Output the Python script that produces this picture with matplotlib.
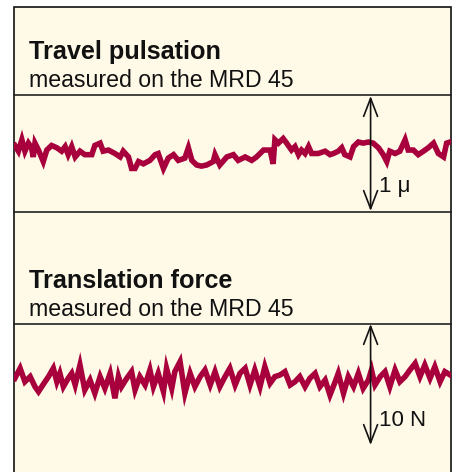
import matplotlib.pyplot as plt
from matplotlib.patches import Rectangle

plt.rcParams['font.family'] = ['Liberation Sans', 'DejaVu Sans']

# Travel pulsation trace (x: 0..100 across panel, value in micron)
travel_x = [0.2, 1.0, 1.8, 2.5, 3.3, 4.0, 4.4, 4.8, 5.6, 6.7,
            7.5, 8.6, 9.8, 10.9, 11.7, 12.4, 13.2, 14.0, 15.1, 16.2,
            17.8, 18.5, 19.7, 20.4, 21.6, 23.1, 24.3, 25.0, 26.2, 26.9,
            27.7, 28.5, 29.6, 31.1, 32.3, 33.0, 34.2, 35.3, 36.5, 37.6,
            39.1, 39.9, 40.7, 41.8, 42.9, 44.1, 45.6, 46.0, 47.1, 48.7,
            50.2, 51.3, 52.9, 54.4, 55.5, 57.1, 58.6, 59.3, 59.7, 60.5,
            61.6, 62.4, 63.5, 64.3, 65.1, 65.8, 66.6, 67.4, 68.1, 69.6,
            71.2, 72.3, 73.1, 74.2, 75.0, 75.7, 76.9, 77.7, 78.8, 79.9,
            81.1, 82.2, 83.4, 84.5, 85.3, 86.0, 87.2, 88.3, 89.5, 90.2,
            91.4, 92.5, 93.7, 94.8, 96.0, 97.1, 98.3, 99.0, 99.8]
travel_v = [0.07, 0.02, 0.12, 0.02, 0.09, 0.05, -0.03, 0.09, 0.03, -0.07,
            0.03, 0.07, 0.05, 0.02, 0.06, -0.01, 0.06, -0.03, 0.02, -0.01,
            -0.01, 0.07, 0.09, 0.02, 0.03, 0.00, -0.03, 0.02, -0.03, -0.13,
            -0.13, -0.07, -0.09, -0.06, -0.01, 0.00, -0.13, -0.04, -0.01, -0.06,
            -0.04, 0.05, -0.06, -0.10, -0.11, -0.10, -0.07, -0.01, -0.10, -0.03,
            -0.01, -0.06, -0.03, -0.06, -0.03, 0.03, 0.03, -0.09, 0.12, 0.09,
            0.13, 0.09, 0.03, 0.06, -0.01, 0.03, 0.00, 0.06, 0.00, 0.00,
            0.02, -0.01, 0.00, 0.02, 0.05, -0.01, -0.03, 0.06, 0.10, 0.09,
            0.10, 0.09, 0.05, -0.01, -0.07, 0.02, 0.00, 0.02, 0.12, 0.03,
            0.03, -0.01, 0.02, 0.05, 0.09, 0.00, -0.03, 0.09, 0.10]

# Translation force trace (value in N)
force_x = [0.2, 1.4, 2.5, 3.7, 4.8, 5.6, 7.1, 7.9, 9.0, 9.8,
           10.5, 11.3, 12.4, 13.2, 14.0, 15.1, 16.2, 17.4, 18.5, 19.7,
           20.8, 22.0, 23.1, 23.9, 24.6, 25.8, 26.9, 27.7, 28.8, 30.0,
           31.1, 31.9, 33.0, 34.2, 34.9, 36.1, 36.8, 38.0, 39.1, 40.3,
           41.4, 42.6, 43.7, 44.9, 46.0, 47.1, 48.3, 49.4, 50.6, 51.7,
           52.9, 54.0, 55.1, 56.3, 57.4, 58.6, 59.7, 60.9, 62.0, 63.2,
           64.3, 65.4, 66.6, 67.7, 68.9, 70.0, 71.2, 72.3, 73.5, 74.2,
           75.4, 76.5, 77.7, 78.8, 79.9, 81.1, 81.8, 82.6, 83.8, 84.9,
           86.0, 87.2, 88.3, 89.5, 90.6, 91.8, 92.9, 94.0, 95.2, 96.3,
           97.5, 98.6, 99.8]
force_v = [0.51, 1.34, 0.23, 0.65, -0.18, -0.59, 0.23, 0.65, 1.34, 0.23,
           0.92, -0.18, 0.51, 0.92, -0.04, 1.61, -0.45, 0.37, -0.73, 0.65,
           -0.32, 0.92, -1.14, 0.65, -0.18, 0.51, 1.06, -0.45, 0.65, -0.04,
           1.20, -0.18, 0.92, -0.59, 1.34, -0.32, 1.06, 1.89, -0.73, 0.92,
           -0.18, 0.65, 1.20, -0.04, 1.06, -0.18, 0.65, 1.34, -0.04, 0.92,
           1.34, -0.04, 1.20, -0.18, 1.47, 0.10, 0.65, 0.79, 1.06, -0.04,
           0.23, 0.65, -0.18, 0.51, 0.92, -0.18, 0.37, -0.87, 0.23, 0.92,
           -0.73, 0.65, -0.18, 0.92, -0.32, 0.37, 1.20, -0.04, 0.65, 1.06,
           -0.18, 1.20, 0.23, 0.65, 1.20, 1.75, 0.65, 1.61, 0.51, 1.47,
           0.23, 1.06, 0.79]

titles = ['Travel pulsation', 'Translation force']
subtitle = 'measured on the MRD 45'
scale_labels = ['1 \u03bc', '10 N']

W, H = 458, 472
bg = '#fffae8'
trace_col = '#a8003c'
ink = '#111111'

fig = plt.figure(figsize=(W / 100, H / 100), dpi=100)
fig.patch.set_facecolor('white')

# background / frame drawn in pixel coordinates
base = fig.add_axes([0, 0, 1, 1])
base.set_xlim(0, W)
base.set_ylim(H, 0)
base.axis('off')
base.add_patch(Rectangle((14, 7), 437, H, facecolor=bg, edgecolor=ink, lw=1.2))
for yy in [95, 212, 324]:
    base.plot([14, 451], [yy, yy], color='#222222', lw=1.2)

title_y = [59, 288]
for t, ty in zip(titles, title_y):
    base.text(29, ty, t, fontsize=18.2, fontweight='bold', va='baseline', color=ink)
    base.text(29, ty + 28, subtitle, fontsize=16.7, va='baseline', color=ink)

def trace_axes(top, bottom):
    ax = fig.add_axes([14 / W, 1 - bottom / H, 437 / W, (bottom - top) / H])
    ax.set_xlim(0, 100)
    ax.axis('off')
    ax.patch.set_alpha(0)
    return ax

arrow_x = 81.6
arrow_style = '<->,head_length=1.3,head_width=0.5'

ax1 = trace_axes(96, 211)
ax1.set_ylim(-0.5, 0.5)
ax1.plot(travel_x, travel_v, color=trace_col, lw=4, solid_joinstyle='miter')
ax1.annotate('', xy=(arrow_x, 0.5), xytext=(arrow_x, -0.5),
             arrowprops=dict(arrowstyle=arrow_style, mutation_scale=10,
                             color=ink, lw=1.2, shrinkA=0, shrinkB=0))
ax1.text(arrow_x + 2.0, -0.335, scale_labels[0], fontsize=16, va='baseline', color=ink)

ax2 = trace_axes(324, 445)
ax2.set_ylim(-5, 5)
ax2.plot(force_x, force_v, color=trace_col, lw=4, solid_joinstyle='miter')
ax2.annotate('', xy=(arrow_x, 5), xytext=(arrow_x, -5),
             arrowprops=dict(arrowstyle=arrow_style, mutation_scale=10,
                             color=ink, lw=1.2, shrinkA=0, shrinkB=0))
ax2.text(arrow_x + 2.0, -3.43, scale_labels[1], fontsize=16, va='baseline', color=ink)

fig.savefig('out.png', dpi=100, facecolor='white')
